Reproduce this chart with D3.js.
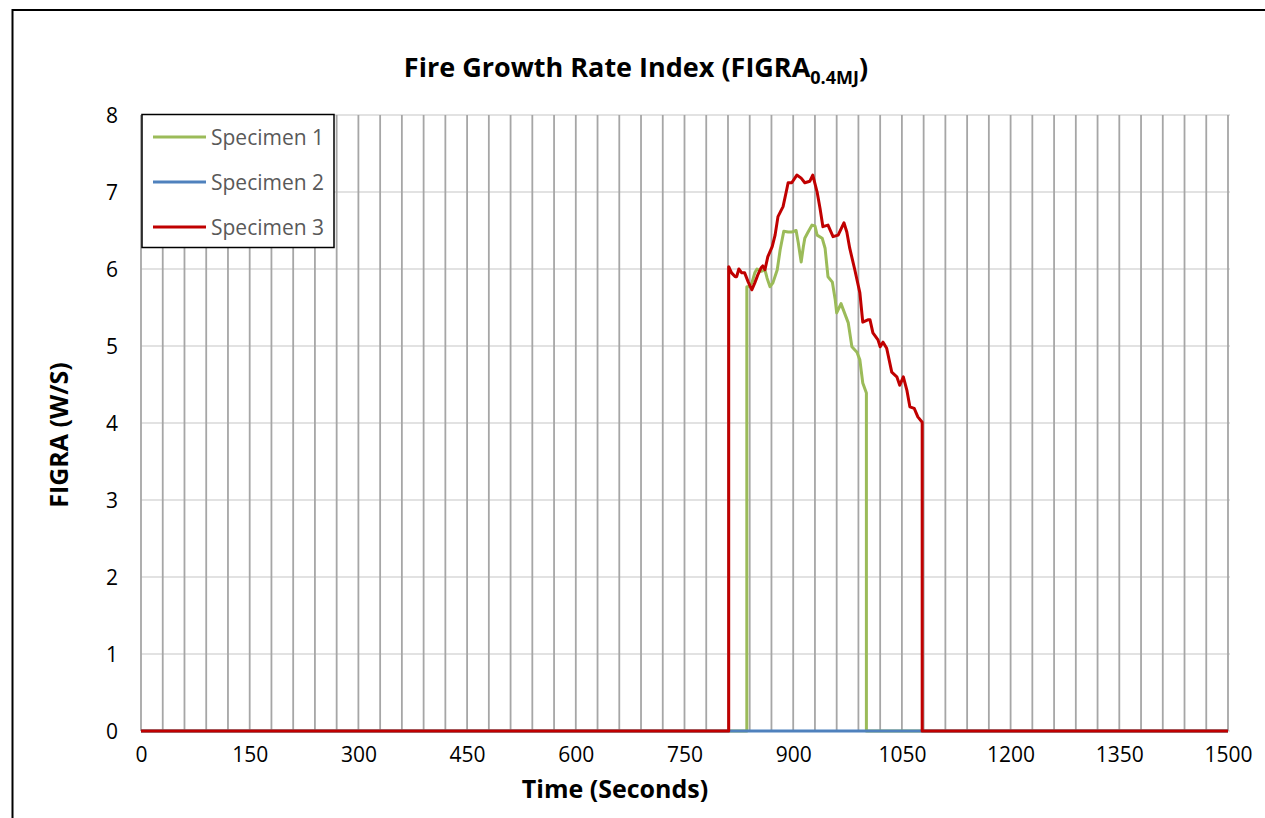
<!DOCTYPE html>
<html>
<head>
<meta charset="utf-8">
<script src="https://cdn.jsdelivr.net/npm/d3@7"></script>
<style>
  html, body { margin: 0; padding: 0; background: #fff; }
  svg { display: block; }
  text { font-family: "Open Sans", "Noto Sans", sans-serif; }
</style>
</head>
<body>
<svg id="chart" width="1265" height="818"></svg>
<script>
// ---------- data ----------
const chartTitle = "Fire Growth Rate Index (FIGRA";
const chartTitleSub = "0.4MJ";
const xAxisTitle = "Time (Seconds)";
const yAxisTitle = "FIGRA (W/S)";
const xTickValues = [0, 150, 300, 450, 600, 750, 900, 1050, 1200, 1350, 1500];
const xGridStep = 30;
const yTickValues = [0, 1, 2, 3, 4, 5, 6, 7, 8];
const seriesNames = ["Specimen 1", "Specimen 2", "Specimen 3"];
const seriesColors = ["#9BBB59", "#4F81BD", "#C00000"];

const spec1Time = [0, 836, 836, 838, 843, 847, 850, 856, 861, 864, 868, 872, 878, 882, 887, 893, 898, 904, 907, 911, 914, 916, 920, 926, 930, 933, 940, 944, 948, 954, 958, 960, 966, 970, 976, 981, 988, 992, 996, 1001, 1001, 1500];
const spec1Value = [0, 0, 5.77, 5.77, 5.82, 5.95, 6.0, 5.97, 5.99, 5.88, 5.77, 5.82, 5.99, 6.25, 6.49, 6.48, 6.48, 6.5, 6.34, 6.09, 6.29, 6.4, 6.47, 6.57, 6.56, 6.44, 6.4, 6.27, 5.9, 5.83, 5.6, 5.43, 5.55, 5.45, 5.3, 4.99, 4.92, 4.82, 4.52, 4.39, 0, 0];

const spec2Time = [0, 1500];
const spec2Value = [0, 0];

const spec3Time = [0, 811, 811, 815, 820, 822, 825, 829, 833, 838, 843, 847, 851, 856, 858, 861, 865, 871, 875, 879, 886, 891, 893, 898, 905, 911, 916, 923, 927, 933, 937, 941, 948, 955, 962, 970, 974, 978, 985, 992, 996, 1003, 1006, 1010, 1017, 1020, 1024, 1029, 1036, 1043, 1047, 1052, 1057, 1061, 1067, 1072, 1078, 1078, 1500];
const spec3Value = [0, 0, 6.03, 5.95, 5.9, 5.9, 6.0, 5.95, 5.95, 5.83, 5.73, 5.82, 5.92, 6.02, 6.04, 5.99, 6.16, 6.29, 6.44, 6.68, 6.81, 7.03, 7.12, 7.12, 7.22, 7.18, 7.12, 7.14, 7.22, 7.0, 6.79, 6.55, 6.57, 6.42, 6.44, 6.6, 6.48, 6.27, 5.99, 5.69, 5.31, 5.34, 5.34, 5.17, 5.08, 4.99, 5.05, 4.97, 4.66, 4.6, 4.49, 4.6, 4.42, 4.21, 4.19, 4.08, 4.01, 0, 0];

// ---------- layout ----------
const svg = d3.select("#chart");
const plot = { left: 141, right: 1228, top: 115, bottom: 731 };

const x = d3.scaleLinear().domain([0, 1500]).range([plot.left, plot.right]);
const y = d3.scaleLinear().domain([0, 8]).range([plot.bottom, plot.top]);

// outer frame
svg.append("rect")
  .attr("x", 12.5).attr("y", 10).attr("width", 1300).attr("height", 900)
  .attr("fill", "none").attr("stroke", "#000").attr("stroke-width", 2);

// horizontal grid
svg.append("g")
  .selectAll("line").data(yTickValues).join("line")
  .attr("x1", plot.left).attr("x2", plot.right + 2)
  .attr("y1", d => y(d)).attr("y2", d => y(d))
  .attr("stroke", "#D9D9D9").attr("stroke-width", 1.5);

// vertical grid
const xGridValues = d3.range(0, 1500 + 1, xGridStep);
svg.append("g")
  .selectAll("line").data(xGridValues).join("line")
  .attr("x1", d => x(d)).attr("x2", d => x(d))
  .attr("y1", plot.top).attr("y2", plot.bottom)
  .attr("stroke", "#A6A6A6").attr("stroke-width", 1.8);

// axes (labels only, no ticks)
const xAxis = d3.axisBottom(x).tickValues(xTickValues).tickFormat(d3.format("d")).tickSize(0).tickPadding(0);
const gx = svg.append("g").attr("transform", `translate(0, ${plot.bottom})`).call(xAxis);
gx.select(".domain").remove();
gx.selectAll("text")
  .attr("y", 31).attr("dy", null)
  .attr("font-size", 21).attr("fill", "#000")
  .style("font-family", "'Open Sans', sans-serif");

const yAxis = d3.axisLeft(y).tickValues(yTickValues).tickFormat(d3.format("d")).tickSize(0).tickPadding(0);
const gy = svg.append("g").attr("transform", `translate(118, 0)`).call(yAxis);
gy.select(".domain").remove();
gy.selectAll("text")
  .attr("x", 0).attr("dy", "0.36em")
  .attr("font-size", 21).attr("fill", "#000")
  .style("font-family", "'Open Sans', sans-serif");

// series lines
const line = d3.line().x(d => x(d[0])).y(d => y(d[1]));
const seriesData = [
  d3.zip(spec1Time, spec1Value),
  d3.zip(spec2Time, spec2Value),
  d3.zip(spec3Time, spec3Value)
];
svg.append("g")
  .selectAll("path").data(seriesData).join("path")
  .attr("d", line)
  .attr("fill", "none")
  .attr("stroke", (d, i) => seriesColors[i])
  .attr("stroke-width", 3)
  .attr("stroke-linejoin", "round");

// title
const title = svg.append("text")
  .attr("x", 636).attr("y", 77)
  .attr("text-anchor", "middle")
  .attr("font-weight", "bold").attr("font-size", 27).attr("fill", "#000");
title.append("tspan").text(chartTitle);
title.append("tspan").attr("font-size", 18).attr("dy", 7).text(chartTitleSub);
title.append("tspan").attr("dy", -7).text(")");

// axis titles
svg.append("text")
  .attr("x", 615).attr("y", 798)
  .attr("text-anchor", "middle")
  .attr("font-weight", "bold").attr("font-size", 25).attr("fill", "#000")
  .text(xAxisTitle);

svg.append("text")
  .attr("transform", "translate(68, 435) rotate(-90)")
  .attr("text-anchor", "middle")
  .attr("font-weight", "bold").attr("font-size", 25).attr("fill", "#000")
  .text(yAxisTitle);

// legend
const legend = svg.append("g");
legend.append("rect")
  .attr("x", 142).attr("y", 114.5).attr("width", 192).attr("height", 133)
  .attr("fill", "#fff").attr("stroke", "#000").attr("stroke-width", 1.5);
const legendRows = [137, 182, 227];
const items = legend.selectAll("g.item").data(seriesNames).join("g").attr("class", "item")
  .attr("transform", (d, i) => `translate(0, ${legendRows[i]})`);
items.append("line")
  .attr("x1", 153).attr("x2", 206).attr("y1", 0).attr("y2", 0)
  .attr("stroke", (d, i) => seriesColors[i]).attr("stroke-width", 3);
items.append("text")
  .attr("x", 211).attr("y", 0).attr("dy", "0.36em")
  .attr("font-size", 21).attr("fill", "#595959")
  .text(d => d);
</script>
</body>
</html>
